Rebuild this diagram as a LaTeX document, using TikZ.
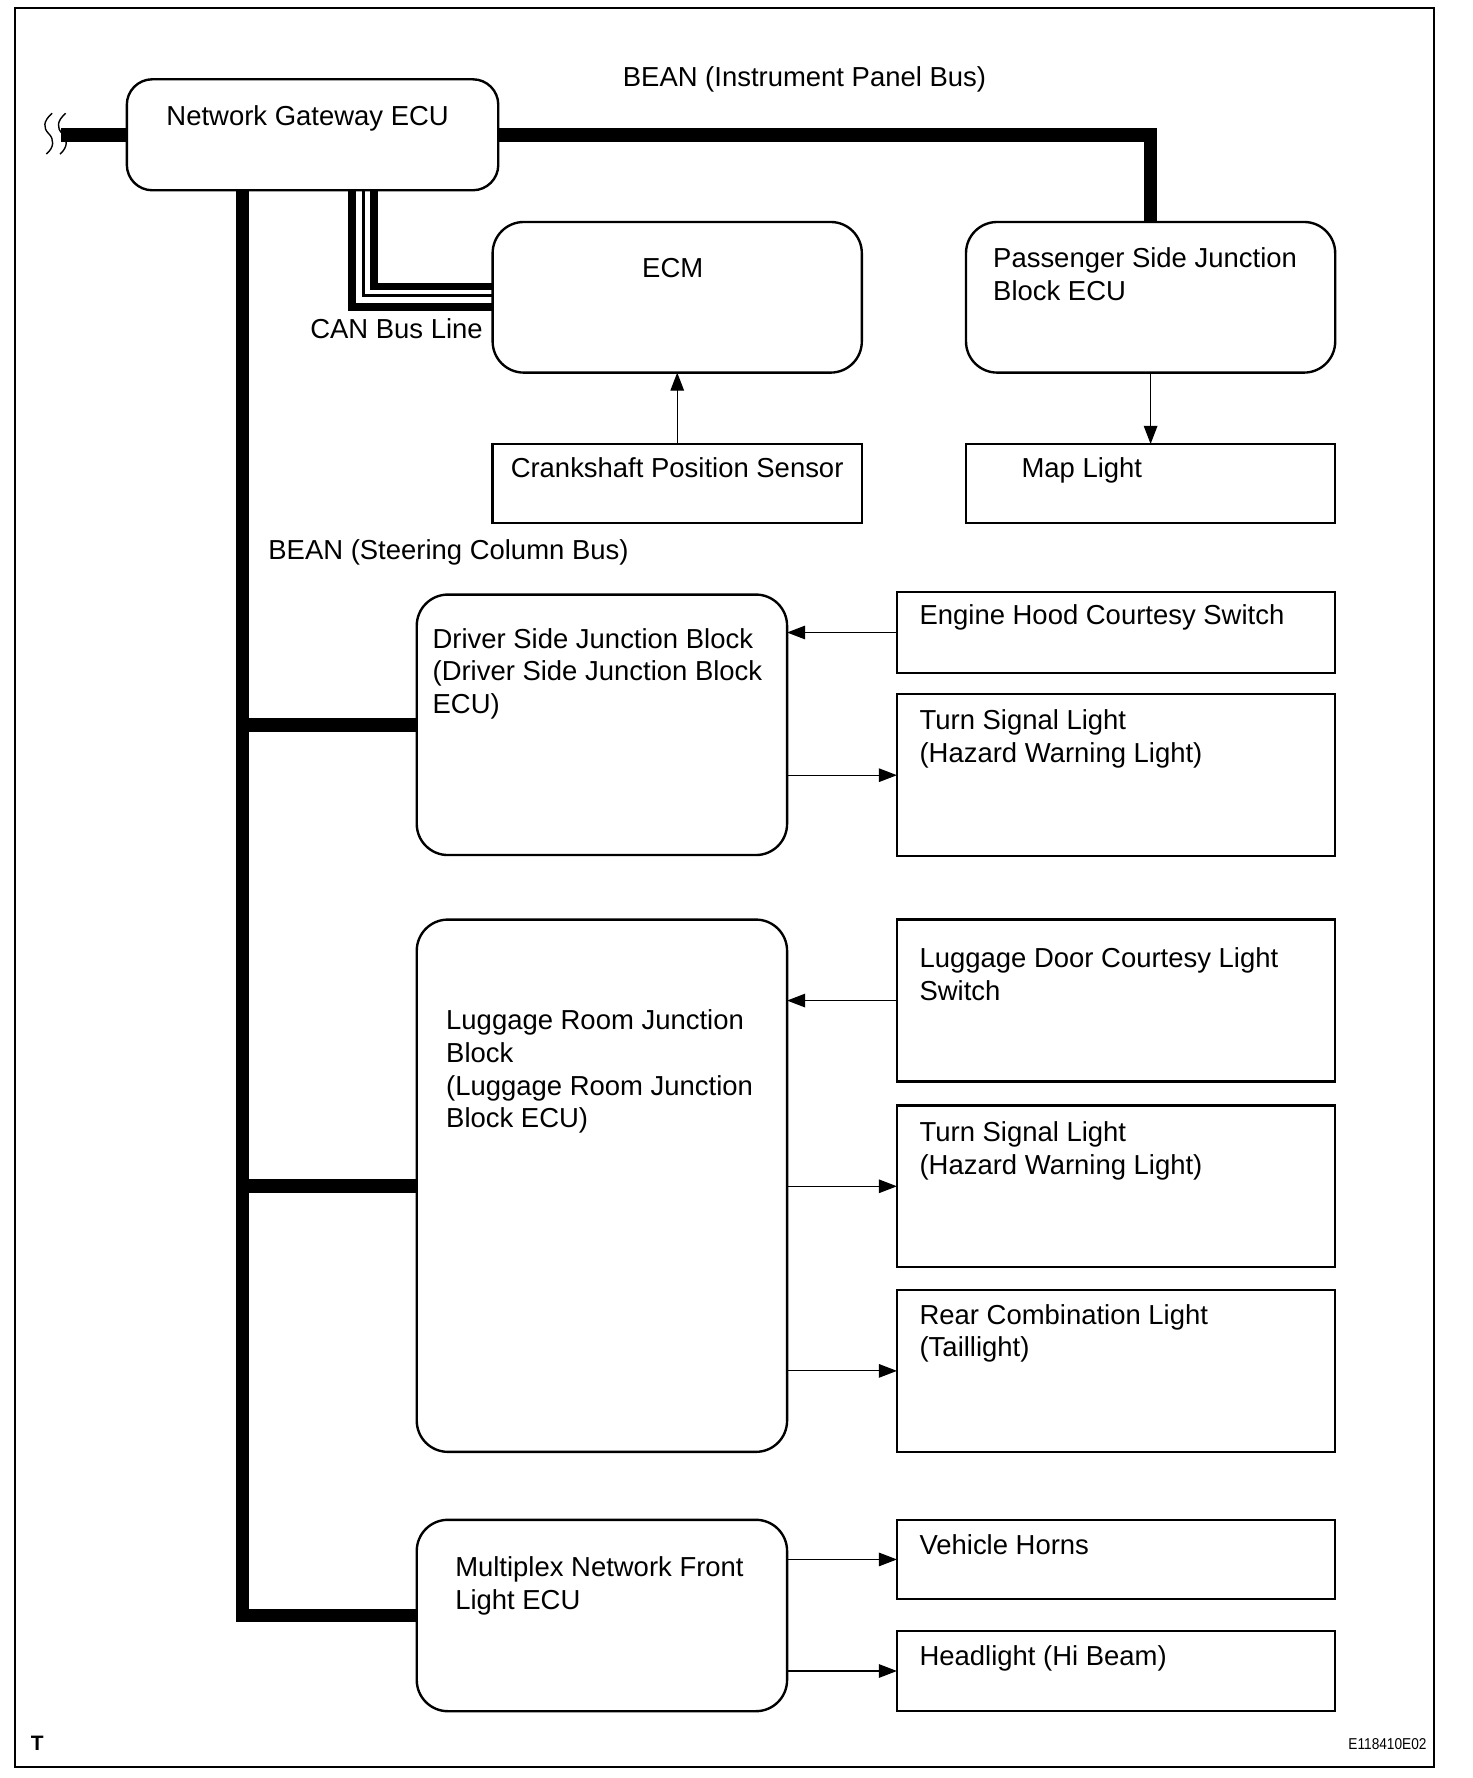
\documentclass[tikz,border=0pt]{standalone}
\usepackage{fontspec}
\setmainfont{Liberation Sans}
\usetikzlibrary{arrows.meta}
\newcommand\mkbox[6]{\node[#2, anchor=north west, inner sep=0pt, outer sep=0pt,
  minimum width={(#5-#3)*0.02cm}, minimum height={(#6-#4)*0.02cm}] (#1) at (#3,#4) {};}
\begin{document}
\begin{tikzpicture}[x=0.02cm,y=-0.02cm,
  rbox/.style={draw, line width=1.2pt, rounded corners=0.55cm},
  gbox/.style={draw, line width=1.2pt, rounded corners=0.45cm},
  sbox/.style={draw, line width=1.2pt},
  lbl/.style={anchor=base west, inner sep=0pt, outer sep=0pt, align=left,
    font=\fontsize{13.8pt}{16.45pt}\selectfont},
  bus/.style={line width=0.24cm},
  canthick/.style={line width=0.14cm},
  canthin/.style={line width=0.05cm},
  sig/.style={line width=0.6pt, -{Triangle[length=0.32cm,width=0.24cm]}},
  squig/.style={line width=0.7pt},
  frame/.style={line width=1.1pt}]
\useasboundingbox (0,0) rectangle (1300,1570);
\draw[frame] (13,7) rectangle (1266,1560);

% boxes
\mkbox{gw}{gbox}{112}{70}{440}{168}
\mkbox{ecm}{rbox}{435}{196}{761}{329}
\mkbox{cps}{sbox}{435}{392}{761}{462}
\mkbox{ps}{rbox}{853}{196}{1179}{329}
\mkbox{map}{sbox}{853}{392}{1179}{462}
\mkbox{drv}{rbox}{368}{525}{695}{755}
\mkbox{ehs}{sbox}{792}{523}{1179}{594}
\mkbox{tsa}{sbox}{792}{613}{1179}{756}
\mkbox{lug}{rbox}{368}{812}{695}{1282}
\mkbox{ldc}{sbox}{792}{812}{1179}{955}
\mkbox{tsb}{sbox}{792}{976}{1179}{1119}
\mkbox{rcl}{sbox}{792}{1139}{1179}{1282}
\mkbox{mx}{rbox}{368}{1342}{695}{1511}
\mkbox{hrn}{sbox}{792}{1342}{1179}{1412}
\mkbox{hdl}{sbox}{792}{1440}{1179}{1511}

% texts (multi-line nodes: base = baseline of the last line)
\node[lbl] (tgw) at (147,111) {Network Gateway ECU};
\node[lbl] (tip) at (550,76) {BEAN (Instrument Panel Bus)};
\node[lbl] (tcan) at (274,299) {CAN Bus Line};
\node[lbl, anchor=base] (tecm) at (594,245) {ECM};
\node[lbl] (tps) at (877,265) {Passenger Side Junction\\Block ECU};
\node[lbl] (tcps) at (451,422) {Crankshaft Position Sensor};
\node[lbl] (tmap) at (902,422) {Map Light};
\node[lbl] (tsc) at (237,494) {BEAN (Steering Column Bus)};
\node[lbl] (tdrv) at (382,630) {Driver Side Junction Block\\(Driver Side Junction Block\\ECU)};
\node[lbl] (tehs) at (812,551) {Engine Hood Courtesy Switch};
\node[lbl] (ttsa) at (812,673) {Turn Signal Light\\(Hazard Warning Light)};
\node[lbl] (tlug) at (394,996) {Luggage Room Junction\\Block\\(Luggage Room Junction\\Block ECU)};
\node[lbl] (tldc) at (812,883) {Luggage Door Courtesy Light\\Switch};
\node[lbl] (ttsb) at (812,1037) {Turn Signal Light\\(Hazard Warning Light)};
\node[lbl] (trcl) at (812,1198) {Rear Combination Light\\(Taillight)};
\node[lbl] (tmx) at (402,1421) {Multiplex Network Front\\Light ECU};
\node[lbl] (thrn) at (812,1373) {Vehicle Horns};
\node[lbl] (thdl) at (812,1471) {Headlight (Hi Beam)};
\node[anchor=base west, inner sep=0pt, font=\fontsize{10.5pt}{12pt}\selectfont\bfseries] (tT) at (27,1546) {T};
\node[anchor=base east, inner sep=0pt, font=\fontsize{7.9pt}{9pt}\selectfont] (tcode) at (1260,1545) {\scalebox{0.87}[1]{E118410E02}};

% squiggle break mark
\draw[squig] (46,100) .. controls (38,107) and (38,113) .. (43,118) .. controls (48,123) and (48,130) .. (41,136);
\draw[squig] (58,100) .. controls (50,107) and (50,113) .. (55,118) .. controls (60,123) and (60,130) .. (53,136);
\coordinate (sq) at (54,119);

% buses
\coordinate (bx) at (214,0);
\draw[bus] (sq) -- (gw.west);
\draw[bus] (gw.east) -| (ps.north);
\draw[bus] (gw.south -| bx) |- (mx.west);
\draw[bus] (drv.west -| bx) -- (drv.west);
\draw[bus] (lug.west -| bx) -- (lug.west);

% CAN bus line
\coordinate (c1) at (311,271);
\coordinate (c2) at (321,261);
\coordinate (c3) at (330,253);
\draw[canthick] (gw.south -| c1) |- (ecm.west |- c1);
\draw[canthin] (gw.south -| c2) |- (ecm.west |- c2);
\draw[canthick] (gw.south -| c3) |- (ecm.west |- c3);

% signal arrows
\draw[sig] (cps.north) -- (ecm.south);
\draw[sig] (ps.south) -- (map.north);
\draw[sig] (ehs.west) -- (ehs.west -| drv.east);
\draw[sig] (drv.east |- tsa.west) -- (tsa.west);
\draw[sig] (ldc.west) -- (ldc.west -| lug.east);
\draw[sig] (lug.east |- tsb.west) -- (tsb.west);
\draw[sig] (lug.east |- rcl.west) -- (rcl.west);
\draw[sig] (mx.east |- hrn.west) -- (hrn.west);
\draw[sig] (mx.east |- hdl.west) -- (hdl.west);
\end{tikzpicture}
\end{document}
